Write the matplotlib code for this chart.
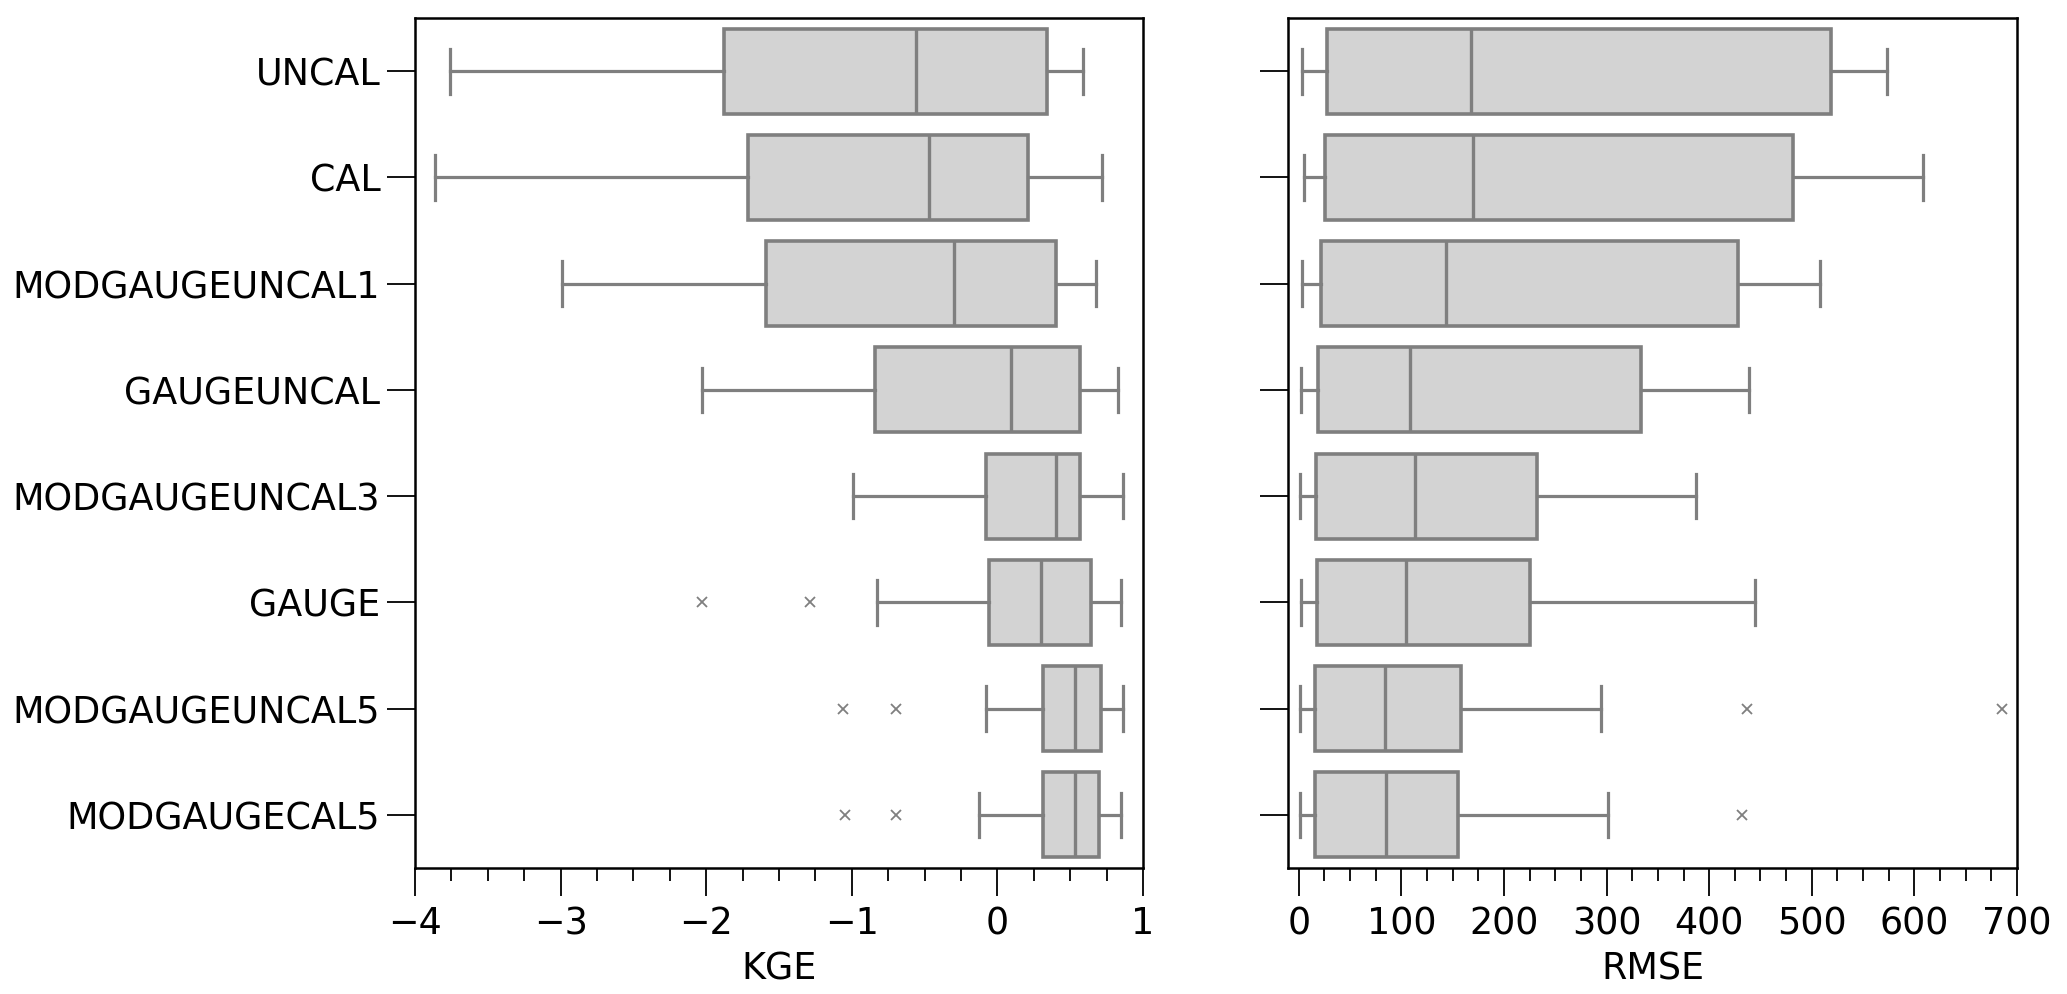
import matplotlib
matplotlib.use("Agg")
import matplotlib.pyplot as plt
from matplotlib.ticker import MultipleLocator

categories = ["UNCAL", "CAL", "MODGAUGEUNCAL1", "GAUGEUNCAL",
              "MODGAUGEUNCAL3", "GAUGE", "MODGAUGEUNCAL5", "MODGAUGECAL5"]

# KGE box statistics (whisker low, q1, median, q3, whisker high)
kge_low = [-3.76, -3.86, -2.99, -2.03, -0.99, -0.83, -0.08, -0.13]
kge_q1 = [-1.88, -1.71, -1.59, -0.84, -0.08, -0.06, 0.31, 0.31]
kge_med = [-0.56, -0.47, -0.30, 0.09, 0.40, 0.30, 0.53, 0.53]
kge_q3 = [0.34, 0.21, 0.40, 0.57, 0.57, 0.645, 0.71, 0.70]
kge_high = [0.59, 0.72, 0.68, 0.83, 0.86, 0.85, 0.86, 0.85]
kge_fliers = [[], [], [], [], [], [-2.03, -1.29], [-1.06, -0.70], [-1.05, -0.70]]

# RMSE box statistics
rmse_low = [3, 5, 3, 2, 1, 2, 1, 1]
rmse_q1 = [27.6, 26.0, 22.0, 19.0, 16.6, 17.6, 15.6, 15.6]
rmse_med = [167.6, 169.6, 143.5, 108.4, 113.0, 105.0, 83.8, 84.8]
rmse_q3 = [518.8, 482.0, 428.0, 333.7, 232.3, 225.3, 158.6, 155.5]
rmse_high = [573, 608, 508, 439, 387.4, 445, 295, 301.6]
rmse_fliers = [[], [], [], [], [], [], [436.5, 685], [432]]

FS = 26.3
LINE = "#7f7f7f"
FILL = "#d3d3d3"


def make_stats(low, q1, med, q3, high, fliers):
    stats = []
    for i in range(len(categories)):
        stats.append({"whislo": low[i], "q1": q1[i], "med": med[i],
                      "q3": q3[i], "whishi": high[i], "fliers": fliers[i]})
    return stats


def draw(ax, stats):
    ax.bxp(stats, positions=range(len(stats)), widths=0.8, capwidths=0.42,
           vert=False, patch_artist=True, showfliers=True,
           boxprops=dict(facecolor=FILL, edgecolor=LINE, linewidth=2.6),
           medianprops=dict(color=LINE, linewidth=2.4),
           whiskerprops=dict(color=LINE, linewidth=2.3),
           capprops=dict(color=LINE, linewidth=2.3),
           flierprops=dict(marker="x", markeredgecolor=LINE, markersize=7,
                           markeredgewidth=1.3, linestyle="none"))
    ax.set_ylim(len(stats) - 0.5, -0.5)
    ax.tick_params(axis="both", which="major", labelsize=FS, length=20,
                   width=1.3, pad=5)
    ax.tick_params(axis="x", which="major", pad=7)
    ax.tick_params(axis="x", which="minor", length=9.5, width=1.3)
    for sp in ax.spines.values():
        sp.set_linewidth(1.8)


fig = plt.figure(figsize=(20.67, 9.94), dpi=100)
ax1 = fig.add_axes([0.2008, 0.1268, 0.3522, 0.855])
ax2 = fig.add_axes([0.6231, 0.1268, 0.3527, 0.855])

draw(ax1, make_stats(kge_low, kge_q1, kge_med, kge_q3, kge_high, kge_fliers))
ax1.set_yticks(range(len(categories)))
ax1.set_yticklabels(categories)
ax1.set_xlim(-4, 1)
ax1.xaxis.set_major_locator(MultipleLocator(1))
ax1.xaxis.set_minor_locator(MultipleLocator(0.25))
ax1.set_xlabel("KGE", fontsize=FS, labelpad=6)

draw(ax2, make_stats(rmse_low, rmse_q1, rmse_med, rmse_q3, rmse_high, rmse_fliers))
ax2.set_yticks(range(len(categories)))
ax2.set_yticklabels([])
ax2.set_xlim(-10.5, 700)
ax2.xaxis.set_major_locator(MultipleLocator(100))
ax2.xaxis.set_minor_locator(MultipleLocator(25))
ax2.set_xlabel("RMSE", fontsize=FS, labelpad=6)

fig.savefig("out.png", dpi=100)
